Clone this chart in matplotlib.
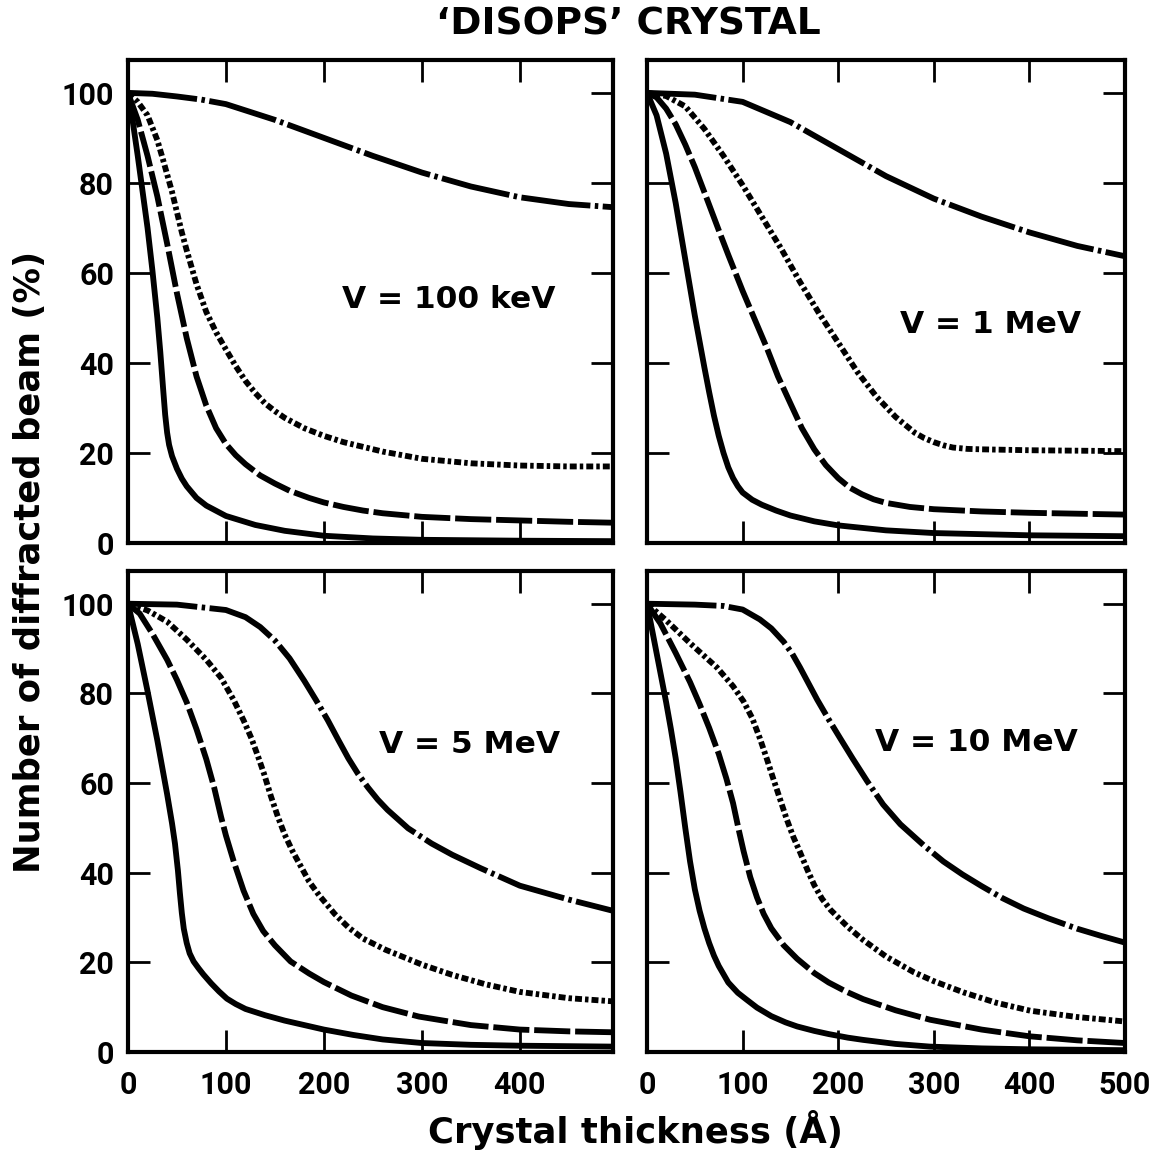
import numpy as np
import matplotlib
matplotlib.use("Agg")
import matplotlib.pyplot as plt

plt.rcParams["font.family"] = ["Roboto", "DejaVu Sans"]
plt.rcParams["font.weight"] = "bold"
plt.rcParams["lines.scale_dashes"] = False

# ---- data (x in Angstrom, y in %) ----
# V = 100 keV
kev100_solid_x = [0, 5, 10, 15, 20, 25, 30, 33, 36, 38, 40, 42, 45, 50, 55, 60, 70, 80, 100, 130, 160, 200, 250, 300, 400, 495]
kev100_solid_y = [100, 93.5, 86, 78, 70, 60.5, 50, 42.5, 34, 28.5, 24.5, 21.8, 19.3, 16.5, 14.3, 12.6, 10, 8.3, 6, 4, 2.7, 1.6, 1, 0.7, 0.5, 0.4]
kev100_dash_x = [0, 10, 20, 30, 40, 50, 60, 70, 80, 90, 100, 110, 120, 135, 150, 165, 185, 200, 220, 240, 260, 300, 350, 400, 450, 495]
kev100_dash_y = [100, 94, 86, 77, 66.5, 55.5, 45.5, 37, 30.5, 25.5, 22, 19.5, 17.5, 15, 13.2, 11.6, 10, 9, 8, 7.2, 6.6, 5.8, 5.3, 5, 4.7, 4.5]
kev100_dot_x = [0, 10, 20, 30, 36, 45, 50, 55, 60, 70, 80, 90, 100, 110, 120, 130, 140, 150, 160, 180, 200, 220, 260, 300, 350, 400, 450, 495]
kev100_dot_y = [100, 98, 95, 89.5, 85, 78, 73.5, 69, 65, 57.5, 51.3, 46.8, 43, 39.3, 36, 33.3, 31, 29.3, 27.8, 25.5, 23.8, 22.4, 20.3, 18.7, 17.7, 17.2, 17, 17]
kev100_dd_x = [0, 25, 50, 75, 100, 150, 200, 250, 300, 350, 400, 450, 495]
kev100_dd_y = [100, 99.8, 99.2, 98.5, 97.5, 94, 90, 86, 82.3, 79.2, 76.8, 75.3, 74.6]

# V = 1 MeV
mev1_solid_x = [0, 10, 20, 30, 40, 50, 60, 65, 70, 75, 80, 85, 90, 95, 100, 110, 120, 135, 150, 175, 200, 250, 300, 400, 500]
mev1_solid_y = [100, 95, 86.5, 75.5, 63, 50.5, 39, 33.5, 28.3, 23.8, 20, 16.8, 14.4, 12.6, 11.2, 9.6, 8.5, 7.2, 6.1, 4.8, 3.9, 2.8, 2.2, 1.7, 1.5]
mev1_dash_x = [0, 10, 20, 30, 40, 50, 62, 75, 85, 100, 112, 125, 137, 150, 162, 175, 187, 200, 212, 225, 237, 250, 275, 300, 350, 400, 500]
mev1_dash_y = [100, 99, 96.5, 93, 88.5, 83.5, 76.8, 69.5, 64, 56, 50, 43.5, 37, 31, 25.5, 20.8, 17.3, 14.4, 12.3, 10.8, 9.7, 8.9, 8, 7.5, 7, 6.7, 6.3]
mev1_dot_x = [0, 20, 40, 60, 80, 100, 120, 140, 160, 180, 200, 220, 240, 260, 280, 290, 300, 310, 320, 335, 350, 400, 500]
mev1_dot_y = [100, 99.3, 97, 92, 86, 79.5, 72.5, 65.5, 58, 51, 44.5, 38, 32.5, 28, 24.5, 23.3, 22.4, 21.7, 21.2, 20.9, 20.8, 20.6, 20.4]
mev1_dd_x = [0, 50, 100, 150, 200, 250, 300, 350, 400, 450, 500]
mev1_dd_y = [100, 99.6, 98, 93.5, 87.5, 81.5, 76.5, 72.5, 69, 66, 63.7]

# V = 5 MeV
mev5_solid_x = [0, 10, 20, 30, 40, 45, 48, 51, 53, 55, 57, 60, 63, 67, 72, 77, 85, 93, 101, 110, 120, 140, 160, 200, 230, 260, 300, 350, 400, 495]
mev5_solid_y = [100, 91, 80.5, 69.5, 57.5, 51, 46.5, 40.5, 35.5, 31, 27.5, 24.3, 22, 20.2, 18.7, 17.3, 15.3, 13.5, 11.9, 10.7, 9.6, 8.2, 7, 5, 3.8, 2.8, 2, 1.6, 1.4, 1.2]
mev5_dash_x = [0, 12, 25, 40, 50, 60, 70, 80, 88, 95, 100, 108, 118, 128, 138, 150, 166, 185, 200, 228, 260, 297, 350, 400, 450, 495]
mev5_dash_y = [100, 97.8, 93.3, 87.5, 83, 78, 72, 65.3, 59, 52.5, 48.3, 42.5, 36, 30.8, 27, 23.8, 20.2, 17.5, 15.6, 12.6, 10, 7.9, 6, 5, 4.6, 4.4]
mev5_dot_x = [0, 20, 40, 60, 80, 95, 108, 118, 126, 133, 139, 146, 153, 160, 168, 176, 185, 195, 211, 225, 240, 263, 300, 331, 365, 400, 450, 495]
mev5_dot_y = [100, 98.5, 96, 92, 87.5, 83.5, 78.5, 74, 70, 65.8, 62, 57, 52.5, 48.5, 44.8, 41.6, 38, 35, 30.8, 27.8, 25.3, 22.8, 19.5, 17.2, 15.1, 13.4, 12, 11.3]
mev5_dd_x = [0, 50, 100, 120, 135, 150, 165, 180, 192, 204, 215, 225, 235, 245, 255, 265, 286, 310, 331, 360, 400, 450, 495]
mev5_dd_y = [100, 99.8, 98.6, 97, 94.8, 91.8, 87.8, 82.8, 78.5, 74, 69.5, 65.5, 62, 59, 56.3, 54, 49.9, 46.5, 44, 41, 37.1, 34, 31.5]

# V = 10 MeV
mev10_solid_x = [0, 10, 20, 25, 30, 35, 40, 45, 50, 55, 60, 65, 70, 75, 85, 95, 104, 115, 130, 145, 157, 175, 190, 210, 226, 260, 296, 350, 400, 500]
mev10_solid_y = [100, 89, 78, 72, 65.5, 58, 50, 42.5, 36.3, 31.5, 27.6, 24.3, 21.5, 19.2, 15.5, 13.2, 11.7, 9.9, 8, 6.6, 5.7, 4.7, 4, 3.2, 2.7, 1.8, 1.2, 0.8, 0.6, 0.4]
mev10_dash_x = [0, 14, 30, 45, 55, 65, 75, 83, 90, 96, 101, 108, 115, 122, 130, 143, 157, 175, 190, 208, 226, 260, 296, 350, 400, 450, 500]
mev10_dash_y = [100, 95.6, 89, 82.5, 77.6, 72.3, 66.5, 61, 55.5, 49.5, 44.8, 39, 34.5, 30.8, 27.6, 23.8, 20.8, 17.6, 15.5, 13.5, 11.8, 9.3, 7.2, 5, 3.5, 2.6, 2]
mev10_dot_x = [0, 20, 45, 73, 90, 101, 110, 118, 125, 132, 139, 146, 153, 160, 168, 175, 183, 192, 210, 226, 250, 279, 300, 331, 365, 401, 450, 500]
mev10_dot_y = [100, 96.3, 91.2, 85.8, 81.6, 78.2, 74.5, 70, 65.6, 61, 56.5, 52, 48, 44.6, 40.5, 37.2, 34.2, 31.7, 27.9, 25, 21.3, 17.8, 15.8, 13.3, 11, 9.2, 7.8, 6.8]
mev10_dd_x = [0, 50, 80, 100, 118, 130, 143, 152, 160, 170, 178, 190, 202, 215, 230, 247, 265, 290, 310, 330, 350, 372, 394, 420, 450, 475, 500]
mev10_dd_y = [100, 99.8, 99.5, 98.7, 96.5, 94.5, 91.5, 88.8, 85.8, 81.8, 78.6, 74.2, 70, 65.5, 60.5, 55.2, 50.8, 46, 42.5, 39.6, 37, 34.3, 32, 29.8, 27.5, 25.9, 24.4]

panel_labels = ["V = 100 keV", "V = 1 MeV", "V = 5 MeV", "V = 10 MeV"]
label_xy = [(327, 54), (359, 48.5), (349, 68.5), (344, 69)]
x_ticks = [0, 100, 200, 300, 400, 500]
y_ticks = [0, 20, 40, 60, 80, 100]

styles = {
    "solid": "-",
    "dash": (0, (26, 3.5)),
    "dot": (0, (5, 2.2, 2.5, 2.2)),
    "dd": (0, (50, 3.2, 2.5, 3.2)),
}

panels = [
    ([0.1102, 0.5295, 0.4177, 0.4185], 495,
     [(kev100_solid_x, kev100_solid_y, "solid"), (kev100_dash_x, kev100_dash_y, "dash"),
      (kev100_dot_x, kev100_dot_y, "dot"), (kev100_dd_x, kev100_dd_y, "dd")]),
    ([0.5573, 0.5295, 0.4117, 0.4185], 500,
     [(mev1_solid_x, mev1_solid_y, "solid"), (mev1_dash_x, mev1_dash_y, "dash"),
      (mev1_dot_x, mev1_dot_y, "dot"), (mev1_dd_x, mev1_dd_y, "dd")]),
    ([0.1102, 0.0884, 0.4177, 0.4168], 495,
     [(mev5_solid_x, mev5_solid_y, "solid"), (mev5_dash_x, mev5_dash_y, "dash"),
      (mev5_dot_x, mev5_dot_y, "dot"), (mev5_dd_x, mev5_dd_y, "dd")]),
    ([0.5573, 0.0884, 0.4117, 0.4168], 500,
     [(mev10_solid_x, mev10_solid_y, "solid"), (mev10_dash_x, mev10_dash_y, "dash"),
      (mev10_dot_x, mev10_dot_y, "dot"), (mev10_dd_x, mev10_dd_y, "dd")]),
]

wide = ["DejaVu Sans"]

fig = plt.figure(figsize=(11.61, 11.54), dpi=100)

for i, (rect, xmax, curves) in enumerate(panels):
    ax = fig.add_axes(rect)
    for xs, ys, key in curves:
        ax.plot(xs, ys, color="black", lw=4.2, linestyle=styles[key],
                dash_capstyle="butt", solid_capstyle="round", solid_joinstyle="round")
    ax.set_xlim(0, xmax)
    ax.set_ylim(0, 107.3)
    ax.set_xticks([t for t in x_ticks if t <= xmax])
    ax.set_yticks(y_ticks)
    ax.tick_params(direction="in", length=16, width=2, top=True, right=True,
                   labelsize=22, pad=10)
    if i in (0, 1):
        ax.tick_params(labelbottom=False)
    else:
        ax.tick_params(axis="x", pad=13)
    if i in (1, 3):
        ax.tick_params(labelleft=False)
    for s in ax.spines.values():
        s.set_linewidth(3)
    ax.text(label_xy[i][0], label_xy[i][1], panel_labels[i], fontsize=22.5,
            ha="center", va="center", family=wide, weight="bold")

fig.text(0.541, 0.979, "\u2018DISOPS\u2019 CRYSTAL", fontsize=27, ha="center", va="center",
         family=wide, weight="bold")
fig.text(0.547, 0.021, "Crystal thickness (Å)", fontsize=25.5, ha="center", va="center",
         family=wide, weight="bold")
fig.text(0.026, 0.513, "Number of diffracted beam (%)", fontsize=25.5, ha="center",
         va="center", rotation=90, family=wide, weight="bold")

fig.savefig("out.png", dpi=100)
